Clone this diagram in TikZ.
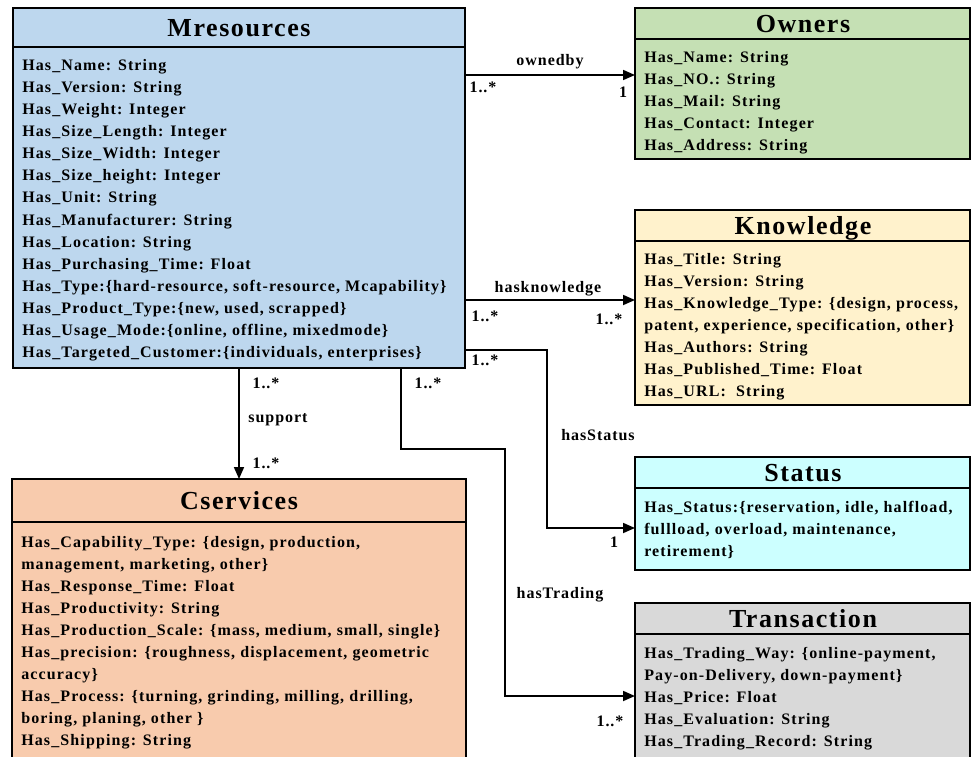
\documentclass[tikz,border=0pt]{standalone}
\usepackage{fontspec}
\setmainfont{Liberation Serif}[LetterSpace=6]
\newfontfamily\attrfont{Liberation Serif}[LetterSpace=7]
\usetikzlibrary{arrows.meta,fit}

\definecolor{mresfill}{RGB}{189,215,238}
\definecolor{ownfill}{RGB}{197,224,180}
\definecolor{knowfill}{RGB}{255,242,204}
\definecolor{statfill}{RGB}{204,255,255}
\definecolor{tranfill}{RGB}{217,217,217}
\definecolor{servfill}{RGB}{248,203,173}

\tikzset{
  classbox/.style={draw=black, line width=1.6pt, inner sep=0pt, outer sep=0pt, rectangle},
  sepline/.style={line width=1.6pt},
  classtitle/.style={anchor=base, inner sep=0pt, font=\fontsize{19.5}{23}\selectfont\bfseries},
  attr/.style={anchor=base west, inner sep=0pt, font=\attrfont\fontsize{12}{16}\selectfont\bfseries},
  lbl/.style={inner sep=0pt, font=\fontsize{12}{16}\selectfont\bfseries},
  conn/.style={line width=1.3pt, -{Triangle[length=9pt,width=7.5pt]}},
}

\begin{document}
\begin{tikzpicture}[x=0.75pt, y=-0.75pt]
\useasboundingbox (0,0) rectangle (972,757);
\clip (0,0) rectangle (972,757);

% ---------- class boxes ----------
\node[classbox, fill=mresfill, fit={(13,8) (465,368)}] (mres) {};
\draw[sepline] (13,47) -- (465,47);
\node[classtitle] (mres-t) at (239,36) {Mresources};

\node[classbox, fill=ownfill, fit={(635,8) (970,159)}] (own) {};
\draw[sepline] (635,39) -- (970,39);
\node[classtitle] (own-t) at (803,32) {Owners};

\node[classbox, fill=knowfill, fit={(635,210) (970,405)}] (know) {};
\draw[sepline] (635,241) -- (970,241);
\node[classtitle] (know-t) at (803,234) {Knowledge};

\node[classbox, fill=statfill, fit={(635,457) (970,570)}] (stat) {};
\draw[sepline] (635,488) -- (970,488);
\node[classtitle] (stat-t) at (803,481) {Status};

\node[classbox, fill=tranfill, fit={(635,603) (970,780)}] (tran) {};
\draw[sepline] (635,634) -- (970,634);
\node[classtitle] (tran-t) at (803,627) {Transaction};

\node[classbox, fill=servfill, fit={(12,479) (466,780)}] (serv) {};
\draw[sepline] (12,522) -- (466,522);
\node[classtitle] (serv-t) at (239,509) {Cservices};

% ---------- attributes ----------
\foreach \t [count=\i from 0] in {
  {Has\_Name: String},
  {Has\_Version: String},
  {Has\_Weight: Integer},
  {Has\_Size\_Length: Integer},
  {Has\_Size\_Width: Integer},
  {Has\_Size\_height: Integer},
  {Has\_Unit: String},
  {Has\_Manufacturer: String},
  {Has\_Location: String},
  {Has\_Purchasing\_Time: Float},
  {Has\_Type:\{hard-resource, soft-resource, Mcapability\}},
  {Has\_Product\_Type:\{new, used, scrapped\}},
  {Has\_Usage\_Mode:\{online, offline, mixedmode\}},
  {Has\_Targeted\_Customer:\{individuals, enterprises\}}}
  \node[attr] (mres-a\i) at (22,70+22.15*\i) {\t};

\foreach \t [count=\i from 0] in {
  {Has\_Name: String},
  {Has\_NO.: String},
  {Has\_Mail: String},
  {Has\_Contact: Integer},
  {Has\_Address: String}}
  \node[attr] (own-a\i) at (644,62+22*\i) {\t};

\foreach \t [count=\i from 0] in {
  {Has\_Title: String},
  {Has\_Version: String},
  {Has\_Knowledge\_Type: \{design, process,},
  {patent, experience, specification, other\}},
  {Has\_Authors: String},
  {Has\_Published\_Time: Float},
  {Has\_URL:~~String}}
  \node[attr] (know-a\i) at (644,264+22*\i) {\t};

\foreach \t [count=\i from 0] in {
  {Has\_Status:\{reservation, idle, halfload,},
  {fullload, overload, maintenance,},
  {retirement\}}}
  \node[attr] (stat-a\i) at (644,512+22*\i) {\t};

\foreach \t [count=\i from 0] in {
  {Has\_Trading\_Way: \{online-payment,},
  {Pay-on-Delivery, down-payment\}},
  {Has\_Price: Float},
  {Has\_Evaluation: String},
  {Has\_Trading\_Record: String}}
  \node[attr] (tran-a\i) at (644,658+22*\i) {\t};

\foreach \t [count=\i from 0] in {
  {Has\_Capability\_Type: \{design, production,},
  {management, marketing, other\}},
  {Has\_Response\_Time: Float},
  {Has\_Productivity: String},
  {Has\_Production\_Scale: \{mass, medium, small, single\}},
  {Has\_precision: \{roughness, displacement, geometric},
  {accuracy\}},
  {Has\_Process: \{turning, grinding, milling, drilling,},
  {boring, planing, other \}},
  {Has\_Shipping: String}}
  \node[attr] (serv-a\i) at (21,547+22*\i) {\t};

% ---------- associations ----------
\draw[conn] (mres.east |- 0,75) -- (own.west |- 0,75);
\node[lbl] (l-own) at (550,62) {ownedby};
\node[lbl] (l-own-s) at (483,87) {1..*};
\node[lbl] (l-own-e) at (623,92) {1};

\draw[conn] (mres.east |- 0,300) -- (know.west |- 0,300);
\node[lbl] (l-know) at (548,289) {hasknowledge};
\node[lbl] (l-know-s) at (485,316) {1..*};
\node[lbl] (l-know-e) at (609,319) {1..*};

\draw[conn] (mres.east |- 0,350) -- (547,350) -- (547,528) -- (stat.west |- 0,528);
\node[lbl] (l-stat) at (598,435) {hasStatus};
\node[lbl] (l-stat-s) at (485,360) {1..*};
\node[lbl] (l-stat-e) at (614,542) {1};

\draw[conn] (mres.south -| 401,0) -- (401,449) -- (505,449) -- (505,696) -- (tran.west |- 0,696);
\node[lbl] (l-tran) at (560,595) {hasTrading};
\node[lbl] (l-tran-s) at (428,383) {1..*};
\node[lbl] (l-tran-e) at (610,721) {1..*};

\draw[conn] (mres.south -| 239,0) -- (serv.north -| 239,0);
\node[lbl] (l-serv) at (278,420) {support};
\node[lbl] (l-serv-s) at (266,383) {1..*};
\node[lbl] (l-serv-e) at (266,463) {1..*};
\end{tikzpicture}
\end{document}
